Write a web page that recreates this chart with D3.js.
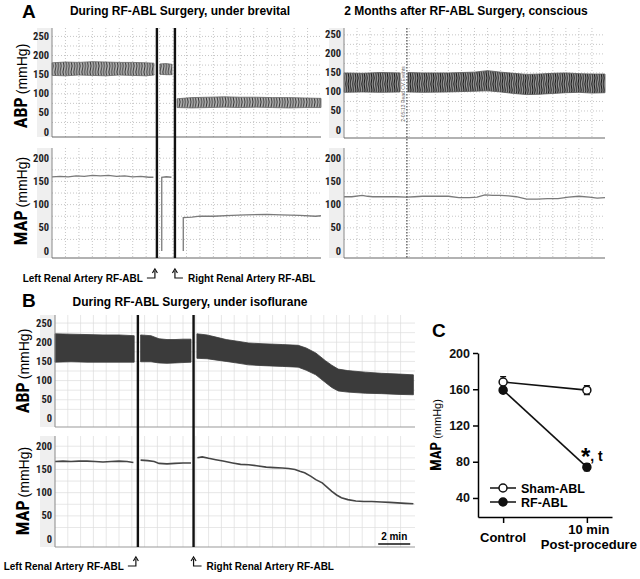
<!DOCTYPE html>
<html><head><meta charset="utf-8">
<script src="https://cdn.jsdelivr.net/npm/d3@7"></script>
<style>
body{margin:0;background:#fff}
svg{display:block}
text{font-family:"Liberation Sans",Arial,sans-serif}
.narrow{font-family:"Liberation Sans Narrow","Arial Narrow","Roboto Condensed","Liberation Sans",sans-serif}
</style></head><body>
<svg id="c" width="640" height="579"></svg>
<script>
// ---------------- DATA ----------------
// Panel A left (under brevital), time in arbitrary units 0-100; [t, low, high]
const aLeftAbp = [
  [[0,148,181],[5,147,183],[10,149,182],[15,148,184],[20,147,183],[25,149,182],[30,148,182],[35,147,181],[37.9,149,180]],
  [[40.1,151,178],[42.4,150,179],[44.6,150,177]],
  [[46.5,64,87],[52,63,90],[58,64,91],[64,65,92],[70,64,91],[76,65,91],[82,64,90],[88,63,90],[94,64,89],[100,64,88]]
];
const aLeftMap = [
  [[0,160],[3,161],[6,160],[9,162],[12,161],[15,163],[18,162],[21,163],[24,161],[27,162],[30,160],[33,161],[36,159],[37.7,159]],
  [[40.8,0],[40.8,159],[42.5,160],[44.4,159]],
  [[48.8,0],[48.8,72],[52,73],[55,75],[60,75],[67,77],[72,78],[80,79],[85,78],[92,77],[98,75],[100,76]]
];
const aLeftMarks = [39.0, 45.7];
// Panel A right (2 months later, conscious)
const aRightAbp = [
  [[0,99,150],[7,100,149],[14,99,151],[21.5,100,150]],
  [[24.5,100,151],[30,99,150],[40,100,150],[50,102,152],[55,103,156],[60,100,152],[65,96,149],[70,93,146],[75,94,147],[80,96,149],[85,98,150],[90,99,148],[95,97,147],[100,98,147]]
];
const aRightMap = [[0,117],[3,117],[7,120],[9,118],[11,117],[15,117],[20,117],[24,116],[27,117],[30,118],[35,118],[40,118],[44,115],[48,115],[51,116],[54,121],[57,120],[60,120],[63,119],[66,117],[70,112],[74,112],[78,113],[82,113],[86,116],[90,118],[94,116],[97,114],[100,115]];
const aRightEvent = [24.1];
// Panel B (under isoflurane), time in minutes
const bAbp = [
  [[0,148,222],[1,149,221],[2,148,220],[3,148,219],[4,148,219],[4.95,148,217]],
  [[5.35,149,219],[6,149,217],[6.5,146,209],[7,145,207],[7.5,146,207],[8,147,208],[8.5,148,208]],
  [[8.87,158,222],[9.5,157,219],[10,154,214],[10.7,150,207],[11.5,145,202],[12.1,141,198],[13,139,196],[14.2,137,194],[15.2,135,192],[15.7,127,185],[16.3,115,172],[16.9,95,152],[17.3,82,140],[17.7,73,130],[18.3,70,126],[19.4,67,122],[20.4,66,119],[21.5,64,117],[22.4,63,115]]
];
const bMap = [
  [[0,167],[0.5,168],[1,167],[1.5,168],[2,168],[2.5,167],[3,166],[3.5,167],[4,168],[4.5,167],[4.9,165]],
  [[5.35,170],[5.8,169],[6.2,167],[6.5,163],[7,162],[7.5,163],[8,164],[8.5,164]],
  [[8.9,175],[9.2,177],[9.6,174],[10.05,171],[10.5,168],[11.1,164],[11.6,161],[12.1,160],[12.6,158],[13.2,155],[13.7,154],[14.2,153],[14.6,152],[15.0,150],[15.3,146],[15.6,143],[16.0,135],[16.3,128],[16.7,121],[17.0,112],[17.3,103],[17.6,95],[17.9,89],[18.3,85],[18.8,82],[19.3,81],[19.8,81],[20.4,80],[20.9,79],[21.4,78],[21.9,77],[22.4,76]]
];
const bMarks = [5.18, 8.66];
const bScaleBar = [20.2, 22.2];
// Tick labels
const abpTicks = [0, 50, 100, 150, 200, 250];
const mapTicks = [0, 50, 100, 150, 200];
// Panel C
const cGroups = ["Control", "10 min|Post-procedure"];
const shamMean = [168, 159];
const shamErr = [6, 5];
const rfMean = [159, 74];
const rfErr = [3, 4];
const cTicks = [40, 80, 120, 160, 200];

// ---------------- DRAW ----------------
const svg = d3.select("#c");
const defs = svg.append("defs");
function stripes(id, bg, fg, w) {
  const p = defs.append("pattern").attr("id", id).attr("width", w).attr("height", 12).attr("patternUnits", "userSpaceOnUse");
  p.append("rect").attr("width", w).attr("height", 12).attr("fill", bg);
  p.append("path").attr("d", `M${w * 0.3},0 L${w * 0.7},6 L${w * 0.3},12`).attr("stroke", fg).attr("stroke-width", 1).attr("fill", "none");
}
stripes("zigL", "#b4b4b4", "#333", 2.7);
stripes("zigR", "#9a9a9a", "#1a1a1a", 2.3);

function tracePanel(o) {
  const x = d3.scaleLinear().domain(o.xDomain).range([o.x0, o.x1]);
  const y = d3.scaleLinear().domain(o.yDomain).range([o.yBot, o.yTop]);
  const g = svg.append("g");
  g.append("rect").attr("x", o.x0 - 15).attr("y", o.yTop).attr("width", 15).attr("height", o.yBot - o.yTop).attr("fill", "#efefef");
  const vg = d3.range(o.xDomain[0] + o.gx, o.xDomain[1] - o.gx * 0.3, o.gx);
  const hg = d3.range(o.gy, o.yDomain[1], o.gy);
  g.selectAll(".vg").data(vg).join("line").attr("x1", d => x(d)).attr("x2", d => x(d)).attr("y1", o.yTop).attr("y2", o.yBot)
    .attr("stroke", o.gridColor).attr("stroke-width", o.gridW).attr("stroke-dasharray", o.gridDash);
  g.selectAll(".hg").data(hg).join("line").attr("x1", o.x0).attr("x2", o.x1).attr("y1", d => y(d)).attr("y2", d => y(d))
    .attr("stroke", o.gridColor).attr("stroke-width", o.gridW).attr("stroke-dasharray", o.gridDash);
  g.selectAll(".tl").data(o.ticks).join("text").attr("class", "narrow").attr("x", o.x0 - 3).attr("y", d => y(d) + 3.5)
    .attr("text-anchor", "end").attr("font-size", 10.5).attr("font-weight", "bold").attr("fill", "#222").text(d => d);
  return { g, x, y };
}
function axesLines(p, o) {
  p.g.append("line").attr("x1", o.x0).attr("x2", o.x0).attr("y1", o.yTop).attr("y2", o.yBot).attr("stroke", "#888").attr("stroke-width", 1);
  p.g.append("line").attr("x1", o.x0).attr("x2", o.x1).attr("y1", o.yBot).attr("y2", o.yBot).attr("stroke", o.axisColor).attr("stroke-width", 1.2);
}
function bands(p, segs, fill, edge) {
  const area = d3.area().x(d => p.x(d[0])).y0(d => p.y(d[1])).y1(d => p.y(d[2]));
  p.g.selectAll(null).data(segs).join("path").attr("d", area).attr("fill", fill).attr("stroke", edge).attr("stroke-width", 0.8);
}
function lineSegs(p, segs, color, w) {
  const line = d3.line().x(d => p.x(d[0])).y(d => p.y(d[1]));
  p.g.selectAll(null).data(segs).join("path").attr("d", line).attr("fill", "none").attr("stroke", color).attr("stroke-width", w);
}
function yLabel(x, yc, big, small, bigSize, smallSize) {
  const t = svg.append("text").attr("transform", `translate(${x},${yc}) rotate(-90)`).attr("text-anchor", "middle");
  t.append("tspan").attr("class", "narrow").attr("font-weight", "bold").attr("font-size", bigSize).text(big);
  t.append("tspan").attr("font-size", smallSize).attr("dx", 3).text(small);
}

// ---- Panel A left ----
const oALa = { x0: 52, x1: 321, xDomain: [0, 100], yTop: 28, yBot: 137, yDomain: [-13, 272], ticks: abpTicks, gx: 5, gy: 25, gridColor: "#b8b8b8", gridW: 0.8, gridDash: "1,2", axisColor: "#666" };
const oALm = Object.assign({}, oALa, { yTop: 148, yBot: 258, yDomain: [-15, 222], ticks: mapTicks });
const pALa = tracePanel(oALa), pALm = tracePanel(oALm);
bands(pALa, aLeftAbp, "url(#zigL)", "#666");
lineSegs(pALm, aLeftMap, "#7a7a7a", 1.3);
axesLines(pALa, oALa); axesLines(pALm, oALm);
svg.selectAll(".aMark").data(aLeftMarks).join("rect").attr("x", d => pALa.x(d) - 1.2).attr("width", 2.4).attr("y", 28).attr("height", 230).attr("fill", "#111");

// ---- Panel A right ----
const oARa = Object.assign({}, oALa, { x0: 344, x1: 605, yDomain: [-21, 268], yBot: 138 });
const oARm = Object.assign({}, oALm, { x0: 344, x1: 605 });
const pARa = tracePanel(oARa), pARm = tracePanel(oARm);
bands(pARa, aRightAbp, "url(#zigR)", "#555");
lineSegs(pARm, [aRightMap], "#7a7a7a", 1.3);
axesLines(pARa, oARa); axesLines(pARm, oARm);
svg.selectAll(".ev").data(aRightEvent).join("line").attr("x1", d => pARa.x(d)).attr("x2", d => pARa.x(d)).attr("y1", 28).attr("y2", 258)
  .attr("stroke", "#333").attr("stroke-width", 1.1).attr("stroke-dasharray", "1.5,1.5");
svg.selectAll(".evt").data(aRightEvent).join("text").attr("transform", d => `translate(${pARa.x(d) - 2},94) rotate(-90)`)
  .attr("text-anchor", "middle").attr("font-size", 5).attr("fill", "#666").text("2-05-13 Read CV Events");

// ---- Panel B ----
const oBa = { x0: 55, x1: 415, xDomain: [0, 22.5], yTop: 315, yBot: 427, yDomain: [-21, 271], ticks: abpTicks, gx: 0.8, gy: 25, gridColor: "#dcdcdc", gridW: 0.7, gridDash: null, axisColor: "#999" };
const oBm = Object.assign({}, oBa, { yTop: 436, yBot: 547, yDomain: [-17, 222], ticks: mapTicks });
const pBa = tracePanel(oBa), pBm = tracePanel(oBm);
bands(pBa, bAbp, "#3b3b3b", "#3b3b3b");
lineSegs(pBm, bMap, "#454545", 1.6);
axesLines(pBa, oBa); axesLines(pBm, oBm);
svg.selectAll(".bMark").data(bMarks).join("rect").attr("x", d => pBa.x(d) - 1.2).attr("width", 2.4).attr("y", 315).attr("height", 232).attr("fill", "#111");
svg.append("line").attr("x1", pBm.x(bScaleBar[0])).attr("x2", pBm.x(bScaleBar[1])).attr("y1", 544).attr("y2", 544).attr("stroke", "#111").attr("stroke-width", 1.4);
svg.append("text").attr("x", (pBm.x(bScaleBar[0]) + pBm.x(bScaleBar[1])) / 2).attr("y", 540).attr("text-anchor", "middle")
  .attr("font-size", 10).attr("font-weight", "bold").text("2 min");

// y labels
yLabel(27, 86, "ABP", "(mmHg)", 18, 14);
yLabel(27, 201, "MAP", "(mmHg)", 18, 14);
yLabel(29, 371, "ABP", "(mmHg)", 18, 14);
yLabel(29, 491, "MAP", "(mmHg)", 18, 14);

// arrows + labels
function markers(xl, xr, yb, ty) {
  const g = svg.append("g").attr("stroke", "#111").attr("stroke-width", 1.2).attr("fill", "none");
  g.append("path").attr("d", `M${xl - 8},${yb} H${xl} V${yb - 7}`);
  g.append("path").attr("d", `M${xl - 2.5},${yb - 5} L${xl},${yb - 9} L${xl + 2.5},${yb - 5}`);
  g.append("path").attr("d", `M${xr + 8},${yb} H${xr} V${yb - 7}`);
  g.append("path").attr("d", `M${xr - 2.5},${yb - 5} L${xr},${yb - 9} L${xr + 2.5},${yb - 5}`);
  svg.append("text").attr("x", xl - 12).attr("y", ty).attr("text-anchor", "end").attr("font-size", 10).attr("font-weight", "bold").text("Left Renal Artery RF-ABL");
  svg.append("text").attr("x", xr + 13).attr("y", ty).attr("text-anchor", "start").attr("font-size", 10).attr("font-weight", "bold").text("Right Renal Artery RF-ABL");
}
markers(pALa.x(aLeftMarks[0]) - 2, pALa.x(aLeftMarks[1]), 278, 282);
markers(pBa.x(bMarks[0]) - 2, pBa.x(bMarks[1]), 566, 570);

// titles
svg.append("text").attr("x", 22).attr("y", 18).attr("font-size", 19).attr("font-weight", "bold").text("A");
svg.append("text").attr("x", 22).attr("y", 307).attr("font-size", 19).attr("font-weight", "bold").text("B");
svg.append("text").attr("x", 180).attr("y", 15).attr("text-anchor", "middle").attr("font-size", 12).attr("font-weight", "bold").text("During RF-ABL Surgery, under brevital");
svg.append("text").attr("x", 466).attr("y", 15).attr("text-anchor", "middle").attr("font-size", 12).attr("font-weight", "bold").text("2 Months after RF-ABL Surgery, conscious");
svg.append("text").attr("x", 190).attr("y", 306).attr("text-anchor", "middle").attr("font-size", 12).attr("font-weight", "bold").text("During RF-ABL Surgery, under isoflurane");

// ---- Panel C ----
const cx = d3.scalePoint().domain(cGroups).range([478, 612]).padding(0.3);
const cy = d3.scaleLinear().domain([19, 200]).range([517, 353]);
svg.append("text").attr("x", 432).attr("y", 337).attr("font-size", 19).attr("font-weight", "bold").text("C");
const ya = svg.append("g").attr("transform", "translate(478,0)").call(d3.axisLeft(cy).tickValues(cTicks).tickSize(5).tickSizeOuter(0).tickPadding(3));
ya.select(".domain").attr("stroke-width", 1.5);
ya.selectAll(".tick line").attr("stroke-width", 1.5);
ya.selectAll("text").attr("font-size", 12.5).attr("font-weight", "bold").attr("font-family", "Liberation Sans, Arial, sans-serif").attr("fill", "#111");
const xa = svg.append("g").attr("transform", "translate(0,517)").call(d3.axisBottom(cx).tickSize(6).tickSizeOuter(0).tickFormat(""));
xa.select(".domain").attr("stroke-width", 1.5);
xa.selectAll(".tick line").attr("stroke-width", 1.5);
svg.append("text").attr("x", cx(cGroups[0])).attr("y", 542).attr("text-anchor", "middle").attr("font-size", 13).attr("font-weight", "bold").text(cGroups[0]);
const t2 = svg.append("text").attr("x", cx(cGroups[1]) + 2).attr("y", 534).attr("text-anchor", "middle").attr("font-size", 13).attr("font-weight", "bold");
cGroups[1].split("|").forEach((s, i) => t2.append("tspan").attr("x", cx(cGroups[1]) + 2).attr("dy", i ? 15 : 0).text(s));
yLabel(441, 435, "MAP", "(mmHg)", 15, 11);

function series(mean, err, fill) {
  const pts = cGroups.map((gname, i) => [cx(gname), cy(mean[i]), cy(mean[i] + err[i]), cy(mean[i] - err[i])]);
  svg.append("path").attr("d", d3.line()(pts.map(p => [p[0], p[1]]))).attr("stroke", "#111").attr("stroke-width", 1.6).attr("fill", "none");
  pts.forEach(p => {
    svg.append("path").attr("d", `M${p[0]},${p[2]} V${p[3]} M${p[0] - 3},${p[2]} H${p[0] + 3} M${p[0] - 3},${p[3]} H${p[0] + 3}`).attr("stroke", "#111").attr("stroke-width", 1.3).attr("fill", "none");
  });
  svg.selectAll(null).data(pts).join("circle").attr("cx", p => p[0]).attr("cy", p => p[1]).attr("r", 4).attr("fill", fill).attr("stroke", "#111").attr("stroke-width", 1.5);
}
series(shamMean, shamErr, "#fff");
series(rfMean, rfErr, "#111");
const star = svg.append("text").attr("x", 581).attr("y", 465).attr("font-weight", "bold");
star.append("tspan").attr("font-size", 24).text("*");
star.append("tspan").attr("font-size", 14).attr("dy", -4).text(", t");
// legend
[["Sham-ABL", "#fff", 488], ["RF-ABL", "#111", 502]].forEach(([name, fill, yy]) => {
  svg.append("line").attr("x1", 490).attr("x2", 516).attr("y1", yy).attr("y2", yy).attr("stroke", "#111").attr("stroke-width", 1.5);
  svg.append("circle").attr("cx", 503).attr("cy", yy).attr("r", 4).attr("fill", fill).attr("stroke", "#111").attr("stroke-width", 1.5);
  svg.append("text").attr("x", 521).attr("y", yy + 4.5).attr("font-size", 12.5).attr("font-weight", "bold").text(name);
});
</script>
</body></html>
